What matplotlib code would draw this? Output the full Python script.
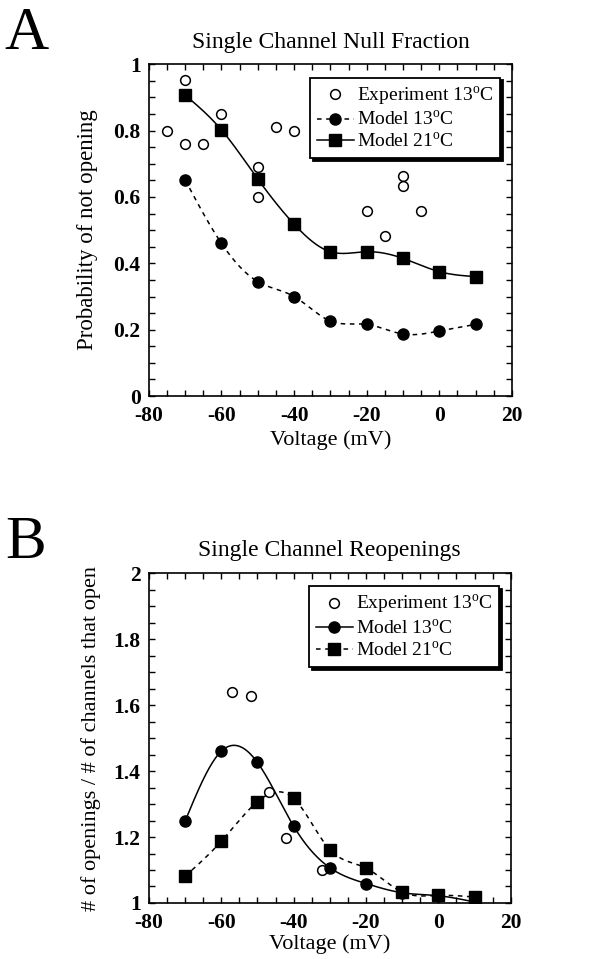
import matplotlib
matplotlib.use("Agg")
import matplotlib.pyplot as plt
import numpy as np
from matplotlib.ticker import MultipleLocator

plt.rcParams.update({
    "font.family": ["Liberation Serif", "DejaVu Serif"],
    "mathtext.fontset": "custom",
    "mathtext.rm": "Liberation Serif",
    "font.size": 14,
    "axes.unicode_minus": False,
})

# Panel A: null fraction
exp_a_v = [-75, -70, -70, -65, -60, -50, -50, -45, -40, -20, -15, -10, -10, -5]
exp_a_p = [0.80, 0.953, 0.76, 0.76, 0.85, 0.69, 0.60, 0.81, 0.80, 0.559, 0.482, 0.664, 0.633, 0.559]
model_v = [-70, -60, -50, -40, -30, -20, -10, 0, 10]
m13_a = [0.651, 0.46, 0.345, 0.30, 0.226, 0.216, 0.187, 0.196, 0.216]
m21_a = [0.907, 0.802, 0.654, 0.518, 0.435, 0.435, 0.415, 0.375, 0.36]

# Panel B: reopenings
exp_b_v = [-56.9, -51.8, -46.9, -42.0, -32.1]
exp_b_r = [1.64, 1.628, 1.337, 1.198, 1.099]
m13_b = [1.248, 1.46, 1.426, 1.233, 1.107, 1.059, 1.031, 1.022, 1.003]
m21_b = [1.081, 1.187, 1.307, 1.317, 1.162, 1.106, 1.033, 1.023, 1.018]


def spline(x, y, n=300):
    # natural cubic spline, only used to draw the smooth connecting line
    x = np.asarray(x, float)
    y = np.asarray(y, float)
    k = len(x)
    h = np.diff(x)
    A = np.zeros((k, k))
    b = np.zeros(k)
    A[0, 0] = A[-1, -1] = 1
    for i in range(1, k - 1):
        A[i, i - 1] = h[i - 1]
        A[i, i] = 2 * (h[i - 1] + h[i])
        A[i, i + 1] = h[i]
        b[i] = 6 * ((y[i + 1] - y[i]) / h[i] - (y[i] - y[i - 1]) / h[i - 1])
    M = np.linalg.solve(A, b)
    xs = np.linspace(x[0], x[-1], n)
    idx = np.clip(np.searchsorted(x, xs) - 1, 0, k - 2)
    x0, x1 = x[idx], x[idx + 1]
    hh = x1 - x0
    ys = (M[idx] * (x1 - xs) ** 3 / (6 * hh) + M[idx + 1] * (xs - x0) ** 3 / (6 * hh)
          + (y[idx] / hh - M[idx] * hh / 6) * (x1 - xs)
          + (y[idx + 1] / hh - M[idx + 1] * hh / 6) * (xs - x0))
    return xs, ys


def style(ax):
    ax.tick_params(which="both", direction="in", top=True, right=True, length=4, width=1)
    ax.tick_params(axis="y", labelsize=15.5, pad=6)
    ax.tick_params(axis="x", labelsize=15.5, pad=7)
    for lab in ax.get_xticklabels() + ax.get_yticklabels():
        lab.set_fontweight("bold")
    for s in ax.spines.values():
        s.set_linewidth(1.2)


def add_legend(ax):
    leg = ax.legend(loc="upper right", fontsize=14, frameon=True, fancybox=False,
                    shadow={"color": "black", "alpha": 1}, handlelength=1.9,
                    handletextpad=0.15, borderpad=0.35, labelspacing=0.12,
                    borderaxespad=0.0, bbox_to_anchor=(0.968, 0.96))
    leg.get_frame().set_edgecolor("black")
    leg.get_frame().set_linewidth(1.3)


fig = plt.figure(figsize=(5.98, 9.59), dpi=100)

lbl13 = "Model 13$^{\\mathrm{o}}$C"
lbl21 = "Model 21$^{\\mathrm{o}}$C"
lblexp = "Experiment 13$^{\\mathrm{o}}$C"

# ---- A ----
ax1 = fig.add_axes([0.249, 0.587, 0.607, 0.346])
ax1.plot(exp_a_v, exp_a_p, "o", mfc="white", mec="black", ms=7, mew=1.1, label=lblexp, zorder=3)
xs, ys = spline(model_v, m13_a)
ax1.plot(xs, ys, "k--", lw=1.1, dashes=(3, 3))
ax1.plot(model_v, m13_a, "ko", ms=8, zorder=4)
xs, ys = spline(model_v, m21_a)
ax1.plot(xs, ys, "k-", lw=1.1)
ax1.plot(model_v, m21_a, "ks", ms=8, zorder=4)
ax1.plot([], [], "k--", marker="o", ms=8, lw=1.1, dashes=(3, 3), label=lbl13)
ax1.plot([], [], "k-", marker="s", ms=8, lw=1.1, label=lbl21)
ax1.set_xlim(-80, 20)
ax1.set_ylim(0, 1)
ax1.xaxis.set_major_locator(MultipleLocator(20))
ax1.xaxis.set_minor_locator(MultipleLocator(5))
ax1.yaxis.set_minor_locator(MultipleLocator(0.05))
ax1.set_yticks([0, 0.2, 0.4, 0.6, 0.8, 1], ["0", "0.2", "0.4", "0.6", "0.8", "1"])
ax1.set_xlabel("Voltage (mV)", fontsize=16, labelpad=3)
ax1.set_ylabel("Probability of not opening", fontsize=16.5, labelpad=11)
ax1.set_title("Single Channel Null Fraction", fontsize=17, pad=12)
style(ax1)
add_legend(ax1)

# ---- B ----
ax2 = fig.add_axes([0.249, 0.0584, 0.605, 0.344])
ax2.plot(exp_b_v, exp_b_r, "o", mfc="white", mec="black", ms=7, mew=1.1, label=lblexp, zorder=3)
xs, ys = spline(model_v, m13_b)
ax2.plot(xs, ys, "k-", lw=1.1)
ax2.plot(model_v, m13_b, "ko", ms=8, zorder=4)
xs, ys = spline(model_v, m21_b)
ax2.plot(xs, ys, "k--", lw=1.1, dashes=(3, 3))
ax2.plot(model_v, m21_b, "ks", ms=8, zorder=4)
ax2.plot([], [], "k-", marker="o", ms=8, lw=1.1, label=lbl13)
ax2.plot([], [], "k--", marker="s", ms=8, lw=1.1, dashes=(3, 3), label=lbl21)
ax2.set_xlim(-80, 20)
ax2.set_ylim(1, 2)
ax2.xaxis.set_major_locator(MultipleLocator(20))
ax2.xaxis.set_minor_locator(MultipleLocator(5))
ax2.yaxis.set_minor_locator(MultipleLocator(0.05))
ax2.set_yticks([1, 1.2, 1.4, 1.6, 1.8, 2], ["1", "1.2", "1.4", "1.6", "1.8", "2"])
ax2.set_xlabel("Voltage (mV)", fontsize=16, labelpad=1)
ax2.set_ylabel("# of openings / # of channels that open", fontsize=16, labelpad=9)
ax2.set_title("Single Channel Reopenings", fontsize=17, pad=12)
style(ax2)
add_legend(ax2)

fig.text(0.008, 0.993, "A", fontsize=44, va="top", ha="left")
fig.text(0.008, 0.462, "B", fontsize=44, va="top", ha="left")

fig.savefig("out.png", dpi=100)
